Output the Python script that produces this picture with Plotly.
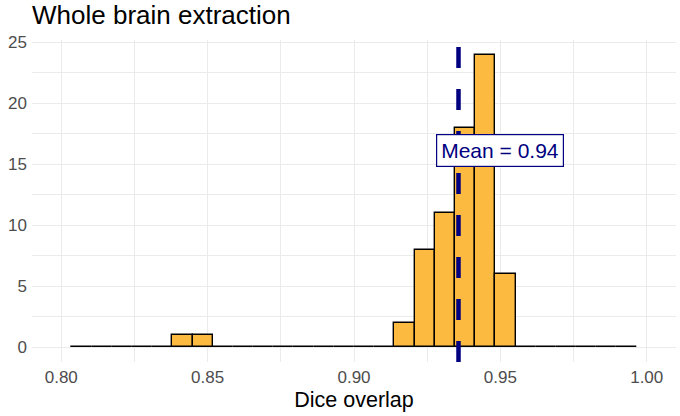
import plotly.graph_objects as go

# ---- data ----
bin_width = 0.2 / 29              # ggplot bins=30 over limits 0.80-1.00
first_bin_center = 0.80 + bin_width
counts = [0, 0, 0, 0, 0, 1, 1, 0, 0, 0,
          0, 0, 0, 0, 0, 0, 2, 8, 11, 18,
          24, 6, 0, 0, 0, 0, 0, 0]
bin_centers = [first_bin_center + i * bin_width for i in range(len(counts))]
mean_dice = 0.9357
label_x = 0.95
label_y = 16
x_ticks = [0.80, 0.85, 0.90, 0.95, 1.00]
x_tick_labels = ["0.80", "0.85", "0.90", "0.95", "1.00"]
y_ticks = [0, 5, 10, 15, 20, 25]

FONT = "Liberation Sans, Arial, sans-serif"
GRID = "#EBEBEB"

fig = go.Figure()
fig.add_trace(go.Bar(
    x=bin_centers, y=counts, width=bin_width,
    marker=dict(color="#FDBA40", line=dict(color="black", width=1.4)),
    showlegend=False, hoverinfo="x+y",
))

fig.add_shape(type="line", xref="x", yref="paper",
              x0=mean_dice, x1=mean_dice, y0=0, y1=1,
              line=dict(color="#000080", width=4.5, dash="21px,21px"))

fig.add_annotation(x=label_x, y=label_y, xref="x", yref="y", yshift=2,
                   text=f"Mean = {mean_dice:.2f}", showarrow=False,
                   font=dict(family=FONT, size=21, color="#000080"),
                   bgcolor="white", bordercolor="#000080", borderwidth=1.2,
                   borderpad=4)

fig.update_layout(
    width=680, height=416,
    margin=dict(l=32, r=4, t=40, b=54),
    paper_bgcolor="white", plot_bgcolor="white",
    bargap=0,
    font=dict(family=FONT),
    title=dict(text="Whole brain extraction", x=32/680, xanchor="left",
               xref="container", y=1 - 15/416, yanchor="middle", yref="container",
               font=dict(family=FONT, size=26, color="black")),
)
fig.update_xaxes(
    range=[0.79, 1.01], tickvals=x_ticks, ticktext=x_tick_labels,
    showgrid=True, gridcolor=GRID, gridwidth=1.1,
    minor=dict(dtick=0.025, tick0=0.8, showgrid=True, gridcolor=GRID, gridwidth=0.55),
    zeroline=False, showline=False, ticks="",
    tickfont=dict(family=FONT, size=17, color="#4D4D4D"),
    ticklabelstandoff=3,
    title=dict(text="Dice overlap", font=dict(family=FONT, size=21.5, color="black"), standoff=5),
    automargin=False,
)
fig.update_yaxes(
    range=[-1.2, 25.2], tickvals=y_ticks,
    showgrid=True, gridcolor=GRID, gridwidth=1.1,
    minor=dict(dtick=2.5, tick0=0, showgrid=True, gridcolor=GRID, gridwidth=0.55),
    zeroline=False, showline=False, ticks="",
    tickfont=dict(family=FONT, size=17, color="#4D4D4D"),
    ticklabelstandoff=4,
    automargin=False,
)

fig.write_html("out.html")
